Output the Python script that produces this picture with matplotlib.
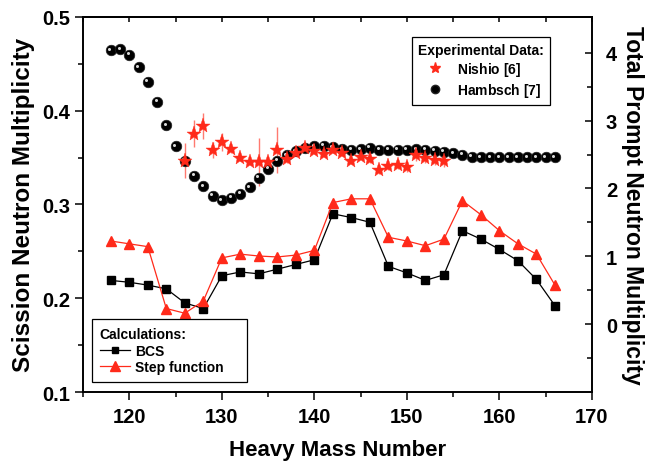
import numpy as np
import matplotlib
matplotlib.use("Agg")
import matplotlib.pyplot as plt
from matplotlib.lines import Line2D
from matplotlib.transforms import offset_copy

plt.rcParams['font.family'] = ['Liberation Sans', 'DejaVu Sans']
plt.rcParams['font.weight'] = 'bold'
plt.rcParams['mathtext.fontset'] = 'custom'
plt.rcParams['mathtext.rm'] = 'Liberation Sans'

### DATA
# calculations (left axis)
mass_calc = [118, 120, 122, 124, 126, 128, 130, 132, 134, 136, 138, 140, 142,
             144, 146, 148, 150, 152, 154, 156, 158, 160, 162, 164, 166]
bcs = [0.219, 0.217, 0.214, 0.210, 0.195, 0.189, 0.224, 0.228, 0.226, 0.231,
       0.236, 0.241, 0.290, 0.286, 0.281, 0.234, 0.227, 0.219, 0.225, 0.272,
       0.263, 0.252, 0.240, 0.220, 0.192]
step_fn = [0.261, 0.258, 0.255, 0.189, 0.184, 0.197, 0.243, 0.247, 0.245, 0.244,
           0.246, 0.251, 0.302, 0.306, 0.306, 0.265, 0.261, 0.256, 0.263, 0.304,
           0.289, 0.272, 0.258, 0.247, 0.214]

# experimental data (right axis)
mass_hambsch = [118, 119, 120, 121, 122, 123, 124, 125, 126, 127, 128, 129, 130,
                131, 132, 133, 134, 135, 136, 137, 138, 139, 140, 141, 142, 143,
                144, 145, 146, 147, 148, 149, 150, 151, 152, 153, 154, 155, 156,
                157, 158, 159, 160, 161, 162, 163, 164, 165, 166]
hambsch = [4.04, 4.05, 3.97, 3.79, 3.57, 3.28, 2.93, 2.62, 2.41, 2.19, 2.03, 1.89,
           1.83, 1.86, 1.92, 2.02, 2.16, 2.29, 2.41, 2.49, 2.55, 2.60, 2.62, 2.63,
           2.61, 2.58, 2.57, 2.58, 2.60, 2.57, 2.57, 2.57, 2.57, 2.58, 2.57, 2.56,
           2.54, 2.52, 2.50, 2.47, 2.46, 2.46, 2.46, 2.46, 2.46, 2.46, 2.46, 2.46,
           2.46]

mass_nishio = [126, 127, 128, 129, 130, 131, 132, 133, 134, 135, 136, 137, 138,
               139, 140, 141, 142, 143, 144, 145, 146, 147, 148, 149, 150, 151,
               152, 153, 154]
nishio = [2.41, 2.81, 2.92, 2.57, 2.69, 2.58, 2.45, 2.39, 2.39, 2.39, 2.57, 2.43,
          2.52, 2.60, 2.55, 2.51, 2.57, 2.52, 2.41, 2.47, 2.43, 2.27, 2.33, 2.35,
          2.31, 2.49, 2.45, 2.42, 2.41]
nishio_err = [0.26, 0.20, 0.19, 0.12, 0.13, 0.05, 0.04, 0.04, 0.36, 0.04, 0.34, 0.05,
              0.04, 0.04, 0.04, 0.04, 0.04, 0.04, 0.05, 0.04, 0.05, 0.06, 0.06, 0.06,
              0.06, 0.08, 0.07, 0.08, 0.10]

### PLOT
fig = plt.figure(figsize=(6.45, 4.64), dpi=100)
ax = fig.add_axes([0.1287, 0.153, 0.7891, 0.8085])
ax2 = ax.twinx()

red = '#ff2a1a'

ax.plot(mass_calc, bcs, color='black', lw=0.9, marker='s', ms=6, mec='black',
        mfc='black', zorder=3)
ax.plot(mass_calc, step_fn, color=red, lw=0.9, marker='^', ms=7.5, mec=red,
        mfc=red, zorder=3)

ax2.errorbar(mass_nishio, nishio, yerr=nishio_err, fmt='none', ecolor='#ff7a70',
             elinewidth=1.0, capsize=0, zorder=2)
ax2.plot(mass_hambsch, hambsch, ls='none', marker='o', ms=7.6, mfc='black',
         mec='#222222', mew=0.5, zorder=3)
hl = offset_copy(ax2.transData, fig=fig, x=-1.5, y=1.5, units='dots')
ax2.plot(mass_hambsch, hambsch, ls='none', marker='o', ms=2.2, mfc='#d8d8d8',
         mec='none', transform=hl, zorder=4)
ax2.plot(mass_nishio, nishio, ls='none', marker='*', ms=11, mfc=red, mec=red,
         mew=0.3, zorder=5)

# axes
ax.set_xlim(115, 170)
ax.set_ylim(0.1, 0.5)
ax2.set_ylim(-1, 4.53)
ax.set_xticks([120, 130, 140, 150, 160, 170])
ax.set_xticks([115, 125, 135, 145, 155, 165], minor=True)
ax.set_yticks([0.1, 0.2, 0.3, 0.4, 0.5])
ax.set_yticks([0.15, 0.25, 0.35, 0.45], minor=True)
ax.set_yticklabels(['0.1', '0.2', '0.3', '0.4', '0.5'])
ax2.set_yticks([0, 1, 2, 3, 4])
ax2.set_yticks([-0.5, 0.5, 1.5, 2.5, 3.5], minor=True)

ax.tick_params(axis='both', which='major', direction='out', length=6, width=1.1,
               labelsize=14.5)
ax.tick_params(axis='both', which='minor', direction='out', length=3.5, width=1.1)
ax.tick_params(axis='x', pad=5)
ax2.tick_params(axis='y', which='major', direction='in', length=5, width=1.1,
                labelsize=14.5, pad=10)
ax2.tick_params(axis='y', which='minor', direction='in', length=3.5, width=1.1)

top = ax.secondary_xaxis('top')
top.set_xticks([120, 130, 140, 150, 160, 170])
top.set_xticks([115, 125, 135, 145, 155, 165], minor=True)
top.tick_params(which='both', direction='in', length=3.5, width=1.1, labeltop=False)

for a in (ax, ax2):
    for s in a.spines.values():
        s.set_linewidth(1.2)
top.spines['top'].set_linewidth(1.2)

ax.set_xlabel('Heavy Mass Number', fontsize=16, fontweight='bold', labelpad=9)
ax.set_ylabel('Scission Neutron Multiplicity', fontsize=17.5, fontweight='bold',
              labelpad=5)
ax2.set_ylabel('Total Prompt Neutron Multiplicity', fontsize=16.5, fontweight='bold',
               rotation=270, labelpad=19)

# legends
exp_handles = [
    Line2D([], [], ls='none', marker='*', ms=8, color=red),
    Line2D([], [], ls='none', marker='o', ms=6, mfc='black', mec='#222222'),
]
leg1 = ax2.legend(exp_handles, [r'Nishio $\mathregular{[6]}$', r'Hambsch $\mathregular{[7]}$'],
                  title='Experimental Data:', loc='upper right',
                  bbox_to_anchor=(0.9175, 0.9467), bbox_transform=ax.transAxes,
                  borderaxespad=0, fontsize=10, title_fontsize=10, frameon=True,
                  fancybox=False, edgecolor='black', framealpha=1,
                  handlelength=2.4, handletextpad=0.4, borderpad=0.45,
                  labelspacing=0.2)
leg1._legend_box.align = 'left'
leg1.get_frame().set_linewidth(0.9)

calc_handles = [
    Line2D([], [], color='black', lw=0.9, marker='s', ms=5),
    Line2D([], [], color=red, lw=0.9, marker='^', ms=6.5),
]
leg2 = ax2.legend(calc_handles, ['BCS', 'Step function    '], title='Calculations:',
                  loc='lower left', bbox_to_anchor=(0.0177, 0.0267),
                  bbox_transform=ax.transAxes, borderaxespad=0, fontsize=10,
                  title_fontsize=10, frameon=True, fancybox=False,
                  edgecolor='black', framealpha=1, handlelength=2.2,
                  handletextpad=0.35, borderpad=0.55, labelspacing=0.2)
leg2._legend_box.align = 'left'
leg2.get_frame().set_linewidth(0.9)
ax2.add_artist(leg1)

fig.savefig('out.png', dpi=100)
